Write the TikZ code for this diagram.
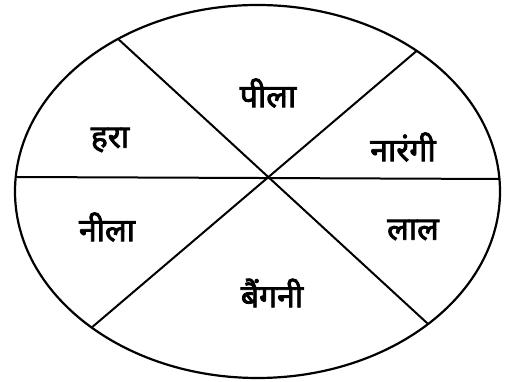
\documentclass[tikz,border=0pt]{standalone}
\usepackage{fontspec}
\newfontfamily\deva[Script=Devanagari,AutoFakeBold=2.5]{Noto Sans}
\usetikzlibrary{calc}
\begin{document}
\begin{tikzpicture}[x=1pt,y=1pt,
  rim/.style={line width=2.2pt,black},
  spoke/.style={line width=2pt,black},
  lbl/.style={font=\deva\bfseries\fontsize{32}{36}\selectfont,inner sep=0pt}]
\useasboundingbox (0,0) rectangle (507,382);
\coordinate (E) at (257.5,190.5);
\coordinate (A1) at (116,345);
\coordinate (A2) at (427,59);
\coordinate (B1) at (413,328);
\coordinate (B2) at (97,59);
\coordinate (H1) at (15,205);
\coordinate (H2) at (500,203);
\begin{scope}
  \clip (E) ellipse [x radius=242.5, y radius=186.5];
  \draw[spoke] ($(A2)!1.15!(A1)$) -- ($(A1)!1.15!(A2)$);
  \draw[spoke] ($(B2)!1.15!(B1)$) -- ($(B1)!1.15!(B2)$);
  \draw[spoke] ($(H2)!1.1!(H1)$) -- ($(H1)!1.1!(H2)$);
\end{scope}
\draw[rim] (E) ellipse [x radius=242.5, y radius=186.5];
\node[lbl] (pila) at (268,289) {पीला};
\node[lbl] (hara) at (110,242) {हरा};
\node[lbl] (narangi) at (403,235) {नारंगी};
\node[lbl] (nila) at (107,155) {नीला};
\node[lbl] (lal) at (413,152) {लाल};
\node[lbl] (baingani) at (272,89) {बैंगनी};
\end{tikzpicture}
\end{document}
